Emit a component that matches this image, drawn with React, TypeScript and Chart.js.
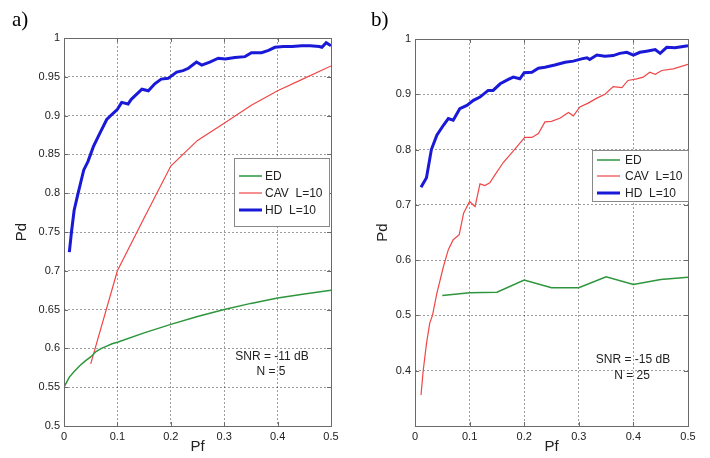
import React, { useEffect, useRef } from "react";
import { Chart, registerables } from "chart.js";
Chart.register(...registerables);

// ---------- Panel a) data (SNR = -11 dB, N = 5) ----------
const A_ED_PF = [0, 0.01, 0.02, 0.03, 0.04, 0.05, 0.06, 0.07, 0.08, 0.09, 0.1, 0.15, 0.2, 0.25, 0.3, 0.35, 0.4, 0.45, 0.5];
const A_ED_PD = [0.55, 0.563, 0.571, 0.578, 0.584, 0.589, 0.596, 0.6, 0.603, 0.606, 0.608, 0.62, 0.631, 0.641, 0.65, 0.658, 0.665, 0.67, 0.675];

const A_CAV_PF = [0.05, 0.1, 0.15, 0.2, 0.25, 0.3, 0.35, 0.4, 0.45, 0.5];
const A_CAV_PD = [0.58, 0.7, 0.768, 0.835, 0.868, 0.89, 0.913, 0.932, 0.948, 0.964];

const A_HD_PF = [0.01, 0.014, 0.019, 0.025, 0.031, 0.037, 0.045, 0.055, 0.067, 0.08, 0.092, 0.1, 0.108, 0.12, 0.126, 0.146, 0.158, 0.17, 0.182, 0.195, 0.211, 0.223, 0.233, 0.248, 0.258, 0.273, 0.289, 0.302, 0.32, 0.339, 0.351, 0.37, 0.383, 0.395, 0.411, 0.427, 0.445, 0.461, 0.478, 0.483, 0.491, 0.5];
const A_HD_PD = [0.724, 0.75, 0.778, 0.796, 0.813, 0.83, 0.841, 0.86, 0.877, 0.895, 0.903, 0.908, 0.917, 0.915, 0.921, 0.934, 0.932, 0.941, 0.947, 0.948, 0.956, 0.958, 0.961, 0.969, 0.965, 0.969, 0.974, 0.973, 0.975, 0.976, 0.981, 0.981, 0.984, 0.988, 0.989, 0.989, 0.99, 0.99, 0.989, 0.988, 0.994, 0.99];

// ---------- Panel b) data (SNR = -15 dB, N = 25) ----------
const B_ED_PF = [0.05, 0.1, 0.15, 0.2, 0.25, 0.3, 0.35, 0.4, 0.45, 0.5];
const B_ED_PD = [0.536, 0.541, 0.542, 0.564, 0.55, 0.55, 0.57, 0.556, 0.565, 0.569];

const B_CAV_PF = [0.011, 0.015, 0.021, 0.027, 0.032, 0.04, 0.052, 0.061, 0.07, 0.081, 0.089, 0.1, 0.11, 0.119, 0.128, 0.137, 0.147, 0.162, 0.183, 0.201, 0.214, 0.226, 0.238, 0.25, 0.266, 0.281, 0.29, 0.302, 0.317, 0.333, 0.348, 0.363, 0.379, 0.39, 0.406, 0.418, 0.43, 0.44, 0.452, 0.473, 0.5];
const B_CAV_PD = [0.356, 0.4, 0.449, 0.486, 0.5, 0.54, 0.588, 0.619, 0.637, 0.646, 0.685, 0.706, 0.697, 0.738, 0.735, 0.74, 0.755, 0.777, 0.801, 0.822, 0.822, 0.829, 0.85, 0.851, 0.857, 0.867, 0.861, 0.877, 0.884, 0.893, 0.9, 0.914, 0.912, 0.925, 0.928, 0.931, 0.94, 0.936, 0.943, 0.946, 0.954];

const B_HD_PF = [0.011, 0.021, 0.03, 0.04, 0.052, 0.061, 0.07, 0.082, 0.095, 0.107, 0.119, 0.134, 0.143, 0.156, 0.171, 0.18, 0.192, 0.2, 0.214, 0.226, 0.238, 0.256, 0.275, 0.29, 0.305, 0.315, 0.32, 0.333, 0.348, 0.363, 0.375, 0.388, 0.4, 0.412, 0.424, 0.44, 0.449, 0.461, 0.476, 0.488, 0.5];
const B_HD_PD = [0.732, 0.749, 0.8, 0.826, 0.844, 0.856, 0.853, 0.874, 0.88, 0.889, 0.895, 0.907, 0.907, 0.919, 0.927, 0.931, 0.928, 0.939, 0.94, 0.947, 0.949, 0.953, 0.958, 0.96, 0.964, 0.966, 0.963, 0.971, 0.969, 0.97, 0.974, 0.976, 0.971, 0.976, 0.978, 0.981, 0.974, 0.985, 0.984, 0.986, 0.988];

// ---------- Labels ----------
const SERIES_LABELS = ["ED", "CAV  L=10", "HD  L=10"];
const X_TITLE = "Pf";
const Y_TITLE = "Pd";
const A_NOTE = ["SNR = -11 dB", "N = 5"];
const B_NOTE = ["SNR = -15 dB", "N = 25"];

const C_ED = "rgb(45,150,60)";
const C_CAV = "rgb(240,70,70)";
const C_HD = "rgb(25,25,215)";
const W_ED = 1.5;
const W_CAV = 1.2;
const W_HD = 3;
const FONT = "'Liberation Sans', Arial, sans-serif";
const FRAME = "#6a6a6a";

const pts = (xs: number[], ys: number[]) => xs.map((x, i) => ({ x, y: ys[i] }));
const fmt = (v: number) => String(Math.round(v * 100) / 100);

const decoPlugin = {
  id: "deco",
  afterDraw(chart: any, _a: any, o: any) {
    const { ctx, chartArea: ca } = chart;
    ctx.save();
    // inner tick marks
    ctx.strokeStyle = FRAME;
    ctx.lineWidth = 1;
    const xs = chart.scales.x, ys = chart.scales.y;
    ctx.beginPath();
    xs.ticks.forEach((t: any) => {
      const px = Math.round(xs.getPixelForValue(t.value)) + 0.5;
      ctx.moveTo(px, ca.bottom); ctx.lineTo(px, ca.bottom - 4);
      ctx.moveTo(px, ca.top); ctx.lineTo(px, ca.top + 4);
    });
    ys.ticks.forEach((t: any) => {
      const py = Math.round(ys.getPixelForValue(t.value)) + 0.5;
      ctx.moveTo(ca.left, py); ctx.lineTo(ca.left + 4, py);
      ctx.moveTo(ca.right, py); ctx.lineTo(ca.right - 4, py);
    });
    ctx.stroke();
    // frame
    ctx.strokeStyle = FRAME;
    ctx.strokeRect(Math.round(ca.left) + 0.5, Math.round(ca.top) + 0.5, Math.round(ca.right - ca.left), Math.round(ca.bottom - ca.top));
    // legend
    const L = o.legend;
    ctx.fillStyle = "#fff";
    ctx.fillRect(L.x, L.y, L.w, L.h);
    ctx.strokeStyle = "#888";
    ctx.strokeRect(L.x + 0.5, L.y + 0.5, L.w, L.h);
    ctx.font = "12px " + FONT;
    ctx.textBaseline = "middle";
    ctx.textAlign = "left";
    chart.data.datasets.forEach((ds: any, i: number) => {
      const yy = L.rows[i];
      ctx.strokeStyle = ds.borderColor;
      ctx.lineWidth = ds.borderWidth;
      ctx.beginPath();
      ctx.moveTo(L.lx0, yy); ctx.lineTo(L.lx1, yy);
      ctx.stroke();
      ctx.fillStyle = "#222";
      ctx.fillText(ds.label, L.tx, yy + 0.5);
    });
    // annotation
    ctx.textAlign = "center";
    ctx.fillStyle = "#222";
    o.note.forEach((n: any) => ctx.fillText(n.text, n.x, n.y));
    // panel label
    ctx.font = "21px 'Liberation Serif', 'Times New Roman', serif";
    ctx.textAlign = "left";
    ctx.textBaseline = "alphabetic";
    ctx.fillStyle = "#000";
    ctx.fillText(o.panel.text, o.panel.x, o.panel.y);
    ctx.restore();
  },
};

function makeConfig(p: any) {
  return {
    type: "line",
    data: {
      datasets: [
        { label: SERIES_LABELS[0], data: p.ed, borderColor: C_ED, borderWidth: W_ED },
        { label: SERIES_LABELS[1], data: p.cav, borderColor: C_CAV, borderWidth: W_CAV },
        { label: SERIES_LABELS[2], data: p.hd, borderColor: C_HD, borderWidth: W_HD },
      ].map((d) => ({ ...d, pointRadius: 0, tension: 0, fill: false, backgroundColor: d.borderColor })),
    },
    options: {
      responsive: false,
      animation: false,
      devicePixelRatio: 1,
      layout: { padding: p.padding },
      plugins: {
        legend: { display: false },
        tooltip: { enabled: false },
        deco: p.deco,
      },
      scales: {
        x: {
          type: "linear",
          min: 0,
          max: 0.5,
          ticks: { stepSize: 0.1, autoSkip: false, maxRotation: 0, padding: 4, color: "#222", font: { family: FONT, size: 11 }, callback: (v: number) => fmt(v) },
          grid: { color: "rgba(0,0,0,0.38)", drawTicks: false, lineWidth: 1 },
          border: { display: false, dash: [2, 2] },
          title: { display: true, text: X_TITLE, color: "#222", font: { family: FONT, size: 15 }, padding: { top: 0, bottom: 2 } },
          afterFit: (s: any) => { s.height = p.xh; },
        },
        y: {
          type: "linear",
          min: p.ymin,
          max: 1,
          ticks: {
            stepSize: p.ystep, autoSkip: false, padding: 4, color: "#222", font: { family: FONT, size: 11 },
            callback: (v: number) => (p.hideMin && Math.abs(v - p.ymin) < 1e-6 ? "" : fmt(v)),
          },
          grid: { color: "rgba(0,0,0,0.38)", drawTicks: false, lineWidth: 1 },
          border: { display: false, dash: [2, 2] },
          title: { display: true, text: Y_TITLE, color: "#222", font: { family: FONT, size: 15 }, padding: { top: p.ytp, bottom: 0 } },
          afterFit: (s: any) => { s.width = p.yw; },
        },
      },
    },
    plugins: [decoPlugin],
  } as any;
}

const PANEL_A = {
  ed: pts(A_ED_PF, A_ED_PD),
  cav: pts(A_CAV_PF, A_CAV_PD),
  hd: pts(A_HD_PF, A_HD_PD),
  ymin: 0.5, ystep: 0.05, hideMin: false,
  padding: { top: 38, right: 24, bottom: 0, left: 0 },
  xh: 32, yw: 64, ytp: 13,
  deco: {
    legend: { x: 234, y: 158, w: 95, h: 68, rows: [176, 193, 210], lx0: 239, lx1: 262, tx: 265 },
    note: [{ text: A_NOTE[0], x: 272, y: 357 }, { text: A_NOTE[1], x: 271, y: 372 }],
    panel: { text: "a)", x: 12, y: 26 },
  },
};

const PANEL_B = {
  ed: pts(B_ED_PF, B_ED_PD),
  cav: pts(B_CAV_PF, B_CAV_PD),
  hd: pts(B_HD_PF, B_HD_PD),
  ymin: 0.3, ystep: 0.1, hideMin: true,
  padding: { top: 39, right: 22, bottom: 0, left: 0 },
  xh: 32, yw: 60, ytp: 19,
  deco: {
    legend: { x: 237, y: 150, w: 96, h: 51, rows: [160, 176, 193], lx0: 242, lx1: 265, tx: 270 },
    note: [{ text: B_NOTE[0], x: 278, y: 360 }, { text: B_NOTE[1], x: 277, y: 376 }],
    panel: { text: "b)", x: 16, y: 26 },
  },
};

function Panel({ cfg, left }: { cfg: any; left: number }) {
  const ref = useRef<HTMLCanvasElement>(null);
  useEffect(() => {
    if (!ref.current) return;
    const ch = new Chart(ref.current, makeConfig(cfg));
    return () => ch.destroy();
  }, [cfg]);
  return <canvas ref={ref} width={355} height={458} style={{ position: "absolute", left, top: 0, width: 355, height: 458 }} />;
}

export default function App() {
  return (
    <div style={{ position: "absolute", left: 0, top: 0, width: 710, height: 458, background: "#fff", overflow: "hidden" }}>
      <Panel cfg={PANEL_A} left={0} />
      <Panel cfg={PANEL_B} left={355} />
    </div>
  );
}
